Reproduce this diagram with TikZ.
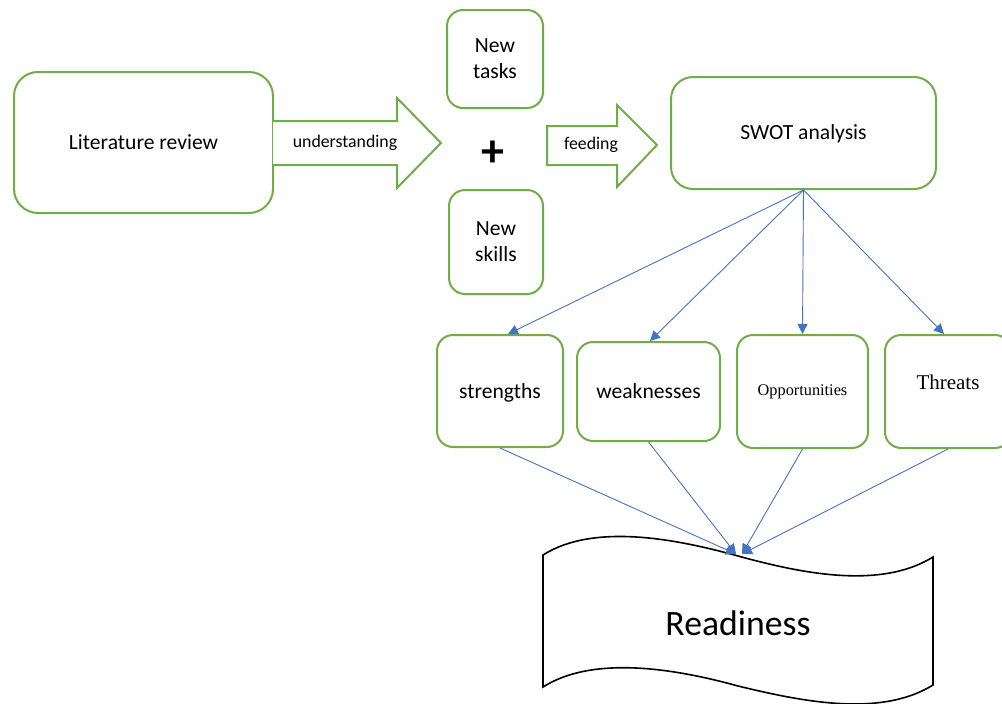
\documentclass[tikz,border=0pt]{standalone}
\usepackage{fontspec}
\setmainfont{Carlito}
\newfontfamily\tnr{Liberation Serif}
\usetikzlibrary{arrows.meta}
\definecolor{gr}{HTML}{70AD47}
\definecolor{bl}{HTML}{4472C4}
\tikzset{
  gbox/.style={draw=gr, line width=2pt, rounded corners=16pt, fill=white, inner sep=0pt, align=center, font=\fontsize{21.6}{26}\selectfont},
  blockarrow/.style={draw=gr, line width=2pt, fill=white, line join=miter},
  conn/.style={draw=bl, line width=0.9pt, -{Triangle[length=10pt,width=10pt]}},
  lbl/.style={inner sep=0pt, font=\fontsize{17.8}{20}\selectfont},
}
\begin{document}
\begin{tikzpicture}[x=1pt,y=-1pt]
\useasboundingbox (0,0) rectangle (1002,704);
% boxes
\node[gbox, minimum width=259pt, minimum height=141pt, rounded corners=24pt] (lit) at (143.5,142.5) {Literature review};
\node[gbox, minimum width=96pt, minimum height=98pt] (tasks) at (495,59) {New\\tasks};
\node[gbox, minimum width=94pt, minimum height=104pt] (skills) at (496,242) {New\\skills};
\node[gbox, minimum width=265pt, minimum height=112pt, rounded corners=22pt, text depth=2pt] (sw) at (803.5,133) {SWOT analysis};
\node[gbox, minimum width=126pt, minimum height=112pt, text depth=1pt] (str) at (500,391) {strengths};
\node[gbox, minimum width=143pt, minimum height=99pt] (weak) at (648.5,391.5) {weaknesses};
\node[gbox, minimum width=131pt, minimum height=113pt, font=\tnr\fontsize{16.3}{19}\selectfont] (opp) at (802.5,391.5) {Opportunities};
\node[gbox, minimum width=126pt, minimum height=113pt, font=\tnr\fontsize{21}{24}\selectfont, text depth=18pt] (thr) at (948,391.5) {Threats};
% plus
\node[inner sep=0pt, font=\fontsize{46}{46}\selectfont\bfseries] (plus) at (493,154) {+};
% block arrows
\draw[blockarrow] (273,121) -- (397,121) -- (397,98) -- (441,143) -- (397,188) -- (397,165) -- (273,165);
\node[lbl] (und) at (345,143) {understanding};
\draw[blockarrow] (547,126) -- (617,126) -- (617,105) -- (657,145) -- (617,187) -- (617,165) -- (547,165) -- cycle;
\node[lbl] (feed) at (591,145) {feeding};
% readiness shape
\draw[line width=1.6pt, fill=white] (543,555) .. controls (595,522) and (680,540) .. (738,556)
  .. controls (800,573) and (880,590) .. (933,557) -- (933,685)
  .. controls (880,718) and (800,701) .. (738,686)
  .. controls (680,670) and (595,654) .. (543,687) -- cycle;
\node[inner sep=0pt, font=\fontsize{35.7}{40}\selectfont] (ready) at (738,623) {Readiness};
\coordinate (rtl) at (736,554);
\coordinate (rtr) at (742,554);
% connectors
\draw[conn] (sw.south) -- ([xshift=8pt]str.north);
\draw[conn] (sw.south) -- ([xshift=1.5pt]weak.north);
\draw[conn] (sw.south) -- (opp.north);
\draw[conn] (sw.south) -- ([xshift=-4pt]thr.north);
\draw[conn] (str.south) -- (rtl);
\draw[conn] (weak.south) -- (rtl);
\draw[conn] (opp.south) -- (rtr);
\draw[conn] (thr.south) -- (rtr);
\end{tikzpicture}
\end{document}
